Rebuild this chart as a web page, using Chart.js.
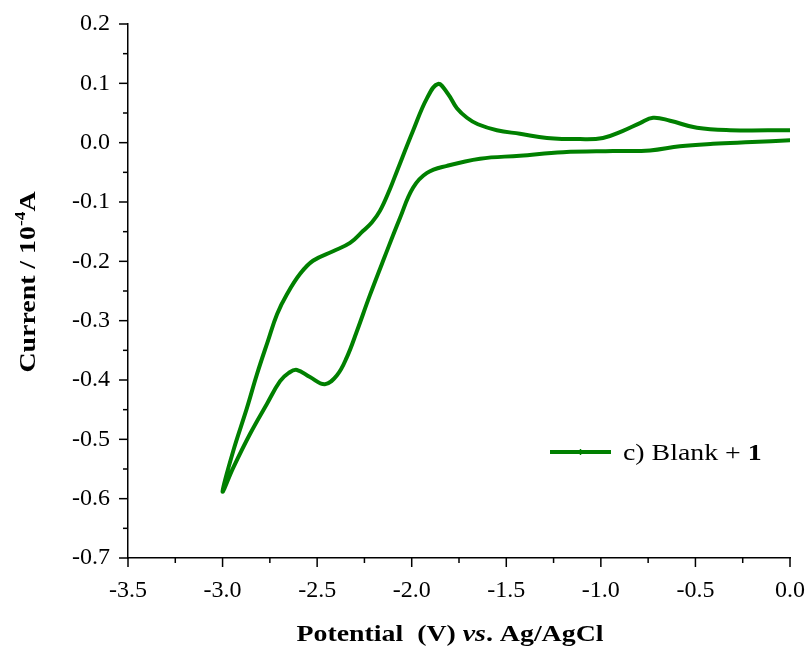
<!DOCTYPE html>
<html><head><meta charset="utf-8">
<script src="https://cdn.jsdelivr.net/npm/chart.js@4.4.0/dist/chart.umd.min.js"></script>
<style>html,body{margin:0;padding:0;background:#fff}#wrap{width:810px;height:650px}</style>
</head><body><div id="wrap"><canvas id="c" width="810" height="650"></canvas></div>
<script>
// Forward (cathodic) scan: 0.0 V -> -3.0 V
const cathodicPotential = [0.0, -0.2, -0.407, -0.582, -0.74, -0.936, -1.2, -1.428, -1.639, -1.813, -1.919, -1.993, -2.062, -2.145, -2.221, -2.289, -2.342, -2.395, -2.459, -2.538, -2.607, -2.65, -2.696, -2.765, -2.855, -2.944, -3.0];
const cathodicCurrent   = [0.004, 0.001, -0.002, -0.006, -0.013, -0.014, -0.016, -0.022, -0.027, -0.039, -0.051, -0.076, -0.127, -0.194, -0.257, -0.317, -0.361, -0.392, -0.407, -0.395, -0.383, -0.388, -0.402, -0.440, -0.491, -0.548, -0.588];
// Reverse (anodic) scan: -3.0 V -> 0.0 V
const anodicPotential = [-2.944, -2.871, -2.818, -2.760, -2.712, -2.659, -2.590, -2.522, -2.416, -2.326, -2.258, -2.21, -2.168, -2.115, -2.078, -1.993, -1.919, -1.861, -1.808, -1.761, -1.708, -1.65, -1.55, -1.428, -1.285, -1.110, -0.989, -0.883, -0.793, -0.724, -0.634, -0.492, -0.317, 0.0];
const anodicCurrent   = [-0.520, -0.447, -0.390, -0.334, -0.289, -0.255, -0.221, -0.199, -0.183, -0.169, -0.149, -0.134, -0.115, -0.078, -0.048, 0.020, 0.075, 0.099, 0.082, 0.058, 0.042, 0.031, 0.021, 0.015, 0.008, 0.006, 0.008, 0.020, 0.033, 0.042, 0.037, 0.025, 0.021, 0.021];
const xTicks = [-3.5, -3.0, -2.5, -2.0, -1.5, -1.0, -0.5, 0.0];
const yTicks = [0.2, 0.1, 0.0, -0.1, -0.2, -0.3, -0.4, -0.5, -0.6, -0.7];
const seriesLabel = 'c) Blank + ';
const seriesLabelBold = '1';
const xTitleParts = ['Potential  (V) ', 'vs', '. Ag/AgCl'];
const yTitleParts = ['Current / 10', '-4', 'A'];

const points = [];
cathodicPotential.forEach((v, i) => points.push({x: v, y: cathodicCurrent[i]}));
anodicPotential.forEach((v, i) => points.push({x: v, y: anodicCurrent[i]}));

const SERIF = '"Liberation Serif", "Times New Roman", serif';
const GREEN = '#008000';
const STRETCH = 1.16;

function drawParts(ctx, parts, fonts, rises, cx, baseY) {
  let tw = 0;
  parts.forEach((t, i) => { ctx.font = fonts[i]; tw += ctx.measureText(t).width; });
  ctx.save();
  ctx.translate(cx, baseY);
  ctx.scale(STRETCH, 1);
  let x0 = -tw / 2;
  parts.forEach((t, i) => { ctx.font = fonts[i]; ctx.fillText(t, x0, rises[i]); x0 += ctx.measureText(t).width; });
  ctx.restore();
}

const decor = {
  id: 'decor',
  afterDraw(chart) {
    const ctx = chart.ctx;
    const xs = chart.scales.x, ys = chart.scales.y;
    const ca = chart.chartArea;
    ctx.save();
    ctx.strokeStyle = '#000';
    ctx.lineWidth = 1.5;
    for (let i = 0; i < xTicks.length; i++) {
      const px = xs.getPixelForValue(xTicks[i]);
      ctx.beginPath(); ctx.moveTo(px, ca.bottom); ctx.lineTo(px, ca.bottom + 9); ctx.stroke();
      if (i < xTicks.length - 1) {
        const pm = xs.getPixelForValue((xTicks[i] + xTicks[i + 1]) / 2);
        ctx.beginPath(); ctx.moveTo(pm, ca.bottom); ctx.lineTo(pm, ca.bottom + 5); ctx.stroke();
      }
    }
    for (let i = 0; i < yTicks.length; i++) {
      const py = ys.getPixelForValue(yTicks[i]);
      ctx.beginPath(); ctx.moveTo(ca.left, py); ctx.lineTo(ca.left - 9, py); ctx.stroke();
      if (i < yTicks.length - 1) {
        const pm = ys.getPixelForValue((yTicks[i] + yTicks[i + 1]) / 2);
        ctx.beginPath(); ctx.moveTo(ca.left, pm); ctx.lineTo(ca.left - 5, pm); ctx.stroke();
      }
    }
    ctx.fillStyle = '#000';
    ctx.textBaseline = 'alphabetic';
    drawParts(ctx, xTitleParts,
      ['bold 24px ' + SERIF, 'italic bold 24px ' + SERIF, 'bold 24px ' + SERIF],
      [0, 0, 0], 450, 641);
    ctx.save();
    ctx.translate(35, 282);
    ctx.rotate(-Math.PI / 2);
    drawParts(ctx, yTitleParts,
      ['bold 24px ' + SERIF, 'bold 15px ' + SERIF, 'bold 24px ' + SERIF],
      [0, -10, 0], 0, 0);
    ctx.restore();
    // legend
    ctx.strokeStyle = GREEN; ctx.lineWidth = 4;
    ctx.beginPath(); ctx.moveTo(550, 452); ctx.lineTo(611, 452); ctx.stroke();
    ctx.lineWidth = 1.5;
    ctx.beginPath(); ctx.moveTo(580.5, 449); ctx.lineTo(580.5, 455); ctx.stroke();
    ctx.save();
    ctx.translate(623, 460);
    ctx.scale(STRETCH, 1);
    ctx.font = '24px ' + SERIF;
    ctx.fillText(seriesLabel, 0, 0);
    const w = ctx.measureText(seriesLabel).width;
    ctx.font = 'bold 24px ' + SERIF;
    ctx.fillText(seriesLabelBold, w, 0);
    ctx.restore();
    ctx.restore();
  }
};

new Chart(document.getElementById('c'), {
  type: 'scatter',
  data: { datasets: [{
    label: seriesLabel + seriesLabelBold,
    data: points,
    showLine: true,
    borderColor: GREEN,
    backgroundColor: GREEN,
    borderWidth: 4,
    pointRadius: 0,
    tension: 0.4,
    borderCapStyle: 'round',
    borderJoinStyle: 'round'
  }]},
  options: {
    responsive: false,
    animation: false,
    layout: { padding: { top: 24, right: 20, left: 0, bottom: 0 } },
    plugins: { legend: { display: false }, tooltip: { enabled: false } },
    scales: {
      x: {
        type: 'linear', min: -3.5, max: 0,
        afterFit: s => { s.height = 92; s.paddingLeft = 0; s.paddingRight = 0; },
        afterBuildTicks: s => { s.ticks = xTicks.map(v => ({value: v})); },
        grid: { display: false, drawTicks: false },
        border: { display: true, color: '#000', width: 1.5 },
        ticks: { color: '#000', padding: 18, font: { family: SERIF, size: 24 }, callback: v => Number(v).toFixed(1), maxRotation: 0, autoSkip: false }
      },
      y: {
        type: 'linear', min: -0.7, max: 0.2,
        afterFit: s => { s.width = 128; s.paddingTop = 0; s.paddingBottom = 0; },
        afterBuildTicks: s => { s.ticks = yTicks.map(v => ({value: v})); },
        grid: { display: false, drawTicks: false },
        border: { display: true, color: '#000', width: 1.5 },
        ticks: { color: '#000', padding: 18, font: { family: SERIF, size: 24 }, autoSkip: false, callback: v => (Math.abs(v) < 1e-9 ? 0 : Number(v)).toFixed(1) }
      }
    }
  },
  plugins: [decor]
});
</script>
</body></html>
